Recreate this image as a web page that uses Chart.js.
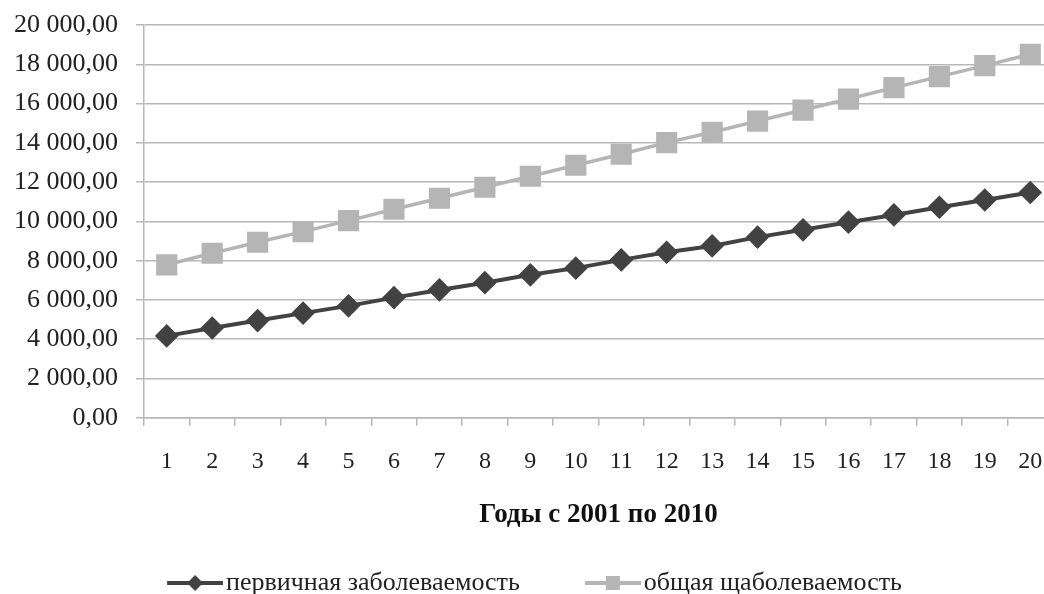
<!DOCTYPE html>
<html>
<head>
<meta charset="utf-8">
<script src="https://cdn.jsdelivr.net/npm/chart.js@4.4.1/dist/chart.umd.min.js"></script>
<style>
  html, body { margin:0; padding:0; background:#fff; overflow:hidden; }
  #wrap { width:1069px; height:594px; }
</style>
</head>
<body>
<div id="wrap"><canvas id="chart" width="1069" height="594"></canvas></div>
<script>
const years = ['1','2','3','4','5','6','7','8','9','10','11','12','13','14','15','16','17','18','19','20'];
const primary = [4170, 4570, 4950, 5330, 5700, 6120, 6510, 6880, 7280, 7620, 8040, 8430, 8750, 9200, 9570, 9960, 10330, 10720, 11090, 11470];
const total = [7790, 8380, 8940, 9480, 10040, 10620, 11180, 11740, 12300, 12860, 13420, 14010, 14540, 15110, 15670, 16230, 16810, 17370, 17930, 18510];
const seriesNames = ['первичная заболеваемость', 'общая щаболеваемость'];
const axisTitle = 'Годы с 2001 по 2010';

const darkColor = '#424242';
const lightColor = '#b5b5b5';
const fontFamily = "'Liberation Serif', 'Times New Roman', serif";

function fmt(v) {
    const s = Math.round(v).toString().replace(/\B(?=(\d{3})+(?!\d))/g, ' ');
    return s + ',00';
}

// legend icon: short line with the marker in the middle
// (left part is transparent so it works as extra gap between the items)
function legendIcon(color, shape) {
    const c = document.createElement('canvas');
    c.width = 92; c.height = 24;
    const g = c.getContext('2d');
    g.strokeStyle = color;
    g.lineWidth = 4;
    g.beginPath(); g.moveTo(36, 12); g.lineTo(92, 12); g.stroke();
    g.fillStyle = color;
    g.beginPath();
    if (shape === 'diamond') {
        g.moveTo(64, 4); g.lineTo(72, 12); g.lineTo(64, 20); g.lineTo(56, 12);
    } else {
        g.rect(57, 5, 14, 14);
    }
    g.fill();
    return c;
}

const icons = [legendIcon(darkColor, 'diamond'), legendIcon(lightColor, 'square')];

new Chart(document.getElementById('chart'), {
    type: 'line',
    data: {
        labels: years,
        datasets: [
            { label: seriesNames[0], data: primary, borderColor: darkColor, backgroundColor: darkColor,
              borderWidth: 4, pointStyle: 'rectRot', pointRadius: 9, pointHoverRadius: 9, tension: 0 },
            { label: seriesNames[1], data: total, borderColor: lightColor, backgroundColor: lightColor,
              borderWidth: 3.5, pointStyle: 'rect', pointRadius: 12.5, pointHoverRadius: 12.5, tension: 0 }
        ]
    },
    options: {
        responsive: false,
        animation: false,
        layout: { padding: { left: -26, right: 0, top: 25, bottom: -12 } },
        plugins: {
            tooltip: { enabled: false },
            legend: {
                position: 'bottom',
                labels: {
                    usePointStyle: true,
                    pointStyleWidth: 72,
                    padding: 39,
                    color: '#222',
                    font: { family: fontFamily, size: 26 },
                    generateLabels: chart => chart.data.datasets.map((ds, i) => ({
                        text: ds.label,
                        pointStyle: icons[i],
                        fillStyle: ds.borderColor,
                        strokeStyle: ds.borderColor,
                        lineWidth: 0,
                        fontColor: '#222',
                        datasetIndex: i
                    }))
                }
            }
        },
        scales: {
            x: {
                offset: true,
                grid: { offset: true, drawOnChartArea: false, drawTicks: true, tickLength: 8, color: '#b8b8b8', lineWidth: 1.5 },
                border: { color: '#b8b8b8', width: 1.5 },
                ticks: { color: '#222', padding: 22, maxRotation: 0, autoSkip: false, font: { family: fontFamily, size: 24 } },
                title: { display: true, text: axisTitle, color: '#111', padding: { top: 0, bottom: 0 },
                         font: { family: fontFamily, size: 27, weight: 'bold' } }
            },
            y: {
                min: 0, max: 20000,
                ticks: { stepSize: 2000, color: '#222', padding: 18, font: { family: fontFamily, size: 26, lineHeight: 0.4 },
                         callback: v => fmt(v) },
                grid: { color: '#b8b8b8', lineWidth: 1.5, tickLength: 8 },
                border: { color: '#b8b8b8', width: 1.5 },
                afterFit: scale => { scale.width = 170; }
            }
        }
    }
});
</script>
</body>
</html>
